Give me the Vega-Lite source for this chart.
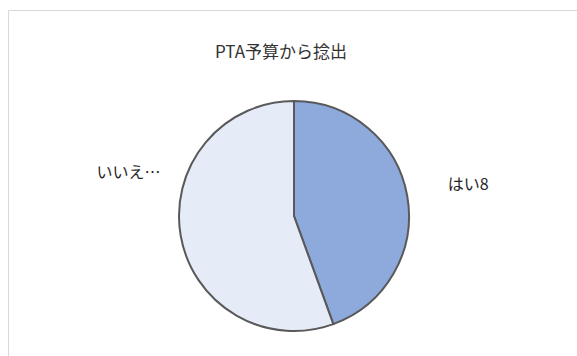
{
  "$schema": "https://vega.github.io/schema/vega-lite/v6.json",
  "autosize": "none",
  "padding": {"left": 8, "top": 10, "right": 0, "bottom": 0},
  "width": 572,
  "height": 412,
  "background": "white",
  "view": {"stroke": "#D9D9D9", "strokeWidth": 1},
  "title": {
    "text": "PTA予算から捻出",
    "font": "Noto Sans CJK JP",
    "fontSize": 17,
    "fontWeight": "normal",
    "color": "#333333",
    "anchor": "middle",
    "dx": -13,
    "dy": 56
  },
  "data": {
    "values": [
      {"label": "はい", "value": 8, "disp": "はい8"},
      {"label": "いいえ", "value": 10, "disp": "いいえ…"}
    ]
  },
  "encoding": {
    "theta": {"field": "value", "type": "quantitative", "stack": true},
    "order": {"field": "label", "sort": "descending"}
  },
  "layer": [
    {
      "mark": {"type": "arc", "radius": 115, "stroke": "#595959", "strokeWidth": 2},
      "encoding": {
        "color": {
          "field": "label",
          "type": "nominal",
          "scale": {"domain": ["はい", "いいえ"], "range": ["#8EA9DB", "#E6ECF7"]},
          "legend": null
        }
      }
    },
    {
      "mark": {"type": "text", "radius": 177, "font": "Noto Sans CJK JP", "fontSize": 16, "color": "#262626", "align": "center", "baseline": "middle"},
      "encoding": {
        "text": {"condition": {"test": "datum.label === 'はい'", "field": "disp"}, "value": ""}
      }
    },
    {
      "mark": {"type": "text", "radius": 172, "font": "Noto Sans CJK JP", "fontSize": 16, "color": "#262626", "align": "center", "baseline": "middle", "dx": 4, "dy": -73},
      "encoding": {
        "text": {"condition": {"test": "datum.label === 'いいえ'", "field": "disp"}, "value": ""}
      }
    }
  ]
}
